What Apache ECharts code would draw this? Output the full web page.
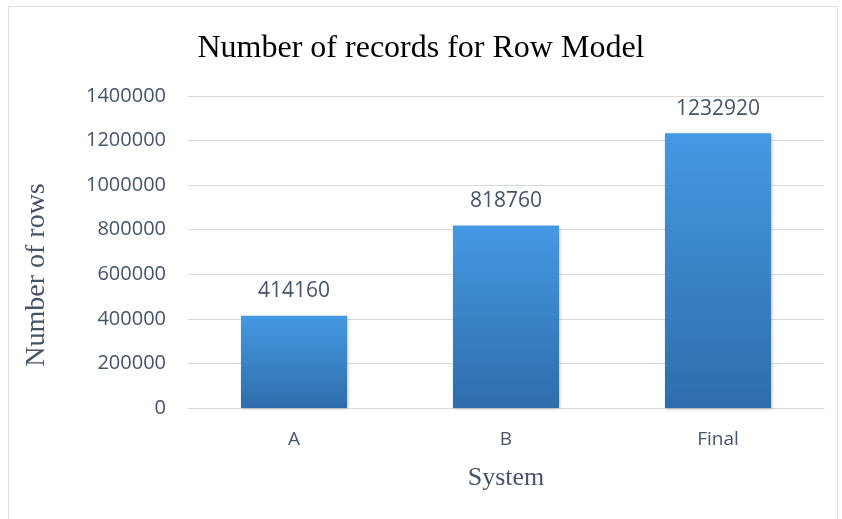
<!DOCTYPE html>
<html>
<head>
<meta charset="utf-8">
<script src="https://cdn.jsdelivr.net/npm/echarts@6/dist/echarts.min.js"></script>
<style>
  body { margin: 0; background: #fff; }
  #wrap { position: relative; width: 842px; height: 519px; }
  #frame { position: absolute; left: 8px; top: 6px; width: 830px; height: 520px; border: 1px solid #dde1e6; box-sizing: border-box; }
  #chart { position: absolute; left: 0; top: 0; width: 842px; height: 519px; }
</style>
</head>
<body>
<div id="wrap">
  <div id="frame"></div>
  <div id="chart"></div>
</div>
<script>
const categories = ['A', 'B', 'Final'];
const rows = [414160, 818760, 1232920];

const labelColor = '#44546a';
const chart = echarts.init(document.getElementById('chart'));
chart.setOption({
  animation: false,
  title: {
    text: 'Number of records for Row Model',
    left: 'center',
    top: 28,
    textStyle: { fontFamily: 'Liberation Serif', fontSize: 32, fontWeight: 'normal', color: '#000' }
  },
  grid: { left: 188, right: 18, top: 96, bottom: 111 },
  xAxis: {
    type: 'category',
    data: categories,
    name: 'System',
    nameLocation: 'middle',
    nameGap: 57,
    nameTextStyle: { fontFamily: 'Liberation Serif', fontSize: 26, color: labelColor },
    axisLine: { lineStyle: { color: '#d9d9d9' } },
    axisTick: { show: false },
    axisLabel: { fontFamily: 'Open Sans', fontSize: 19, color: labelColor, margin: 22 }
  },
  yAxis: {
    type: 'value',
    min: 0,
    max: 1400000,
    interval: 200000,
    name: 'Number of rows',
    nameLocation: 'middle',
    nameGap: 137,
    nameTextStyle: { fontFamily: 'Liberation Serif', fontSize: 28, color: labelColor, padding: [0, 46, 0, 0] },
    axisLine: { show: false },
    axisTick: { show: false },
    splitLine: { lineStyle: { color: '#d9d9d9' } },
    axisLabel: { fontFamily: 'Open Sans', fontSize: 20, color: labelColor, margin: 22, formatter: v => String(v) }
  },
  series: [{
    type: 'bar',
    data: rows,
    barWidth: '50%',
    itemStyle: {
      color: new echarts.graphic.LinearGradient(0, 0, 0, 1, [
        { offset: 0, color: '#4599e3' },
        { offset: 1, color: '#2e6dab' }
      ]),
      shadowColor: 'rgba(0,0,0,0.25)',
      shadowBlur: 3,
      shadowOffsetX: 1,
      shadowOffsetY: 1
    },
    label: {
      show: true,
      position: 'top',
      distance: 14,
      fontFamily: 'Open Sans',
      fontSize: 21,
      color: labelColor
    }
  }]
});
</script>
</body>
</html>
